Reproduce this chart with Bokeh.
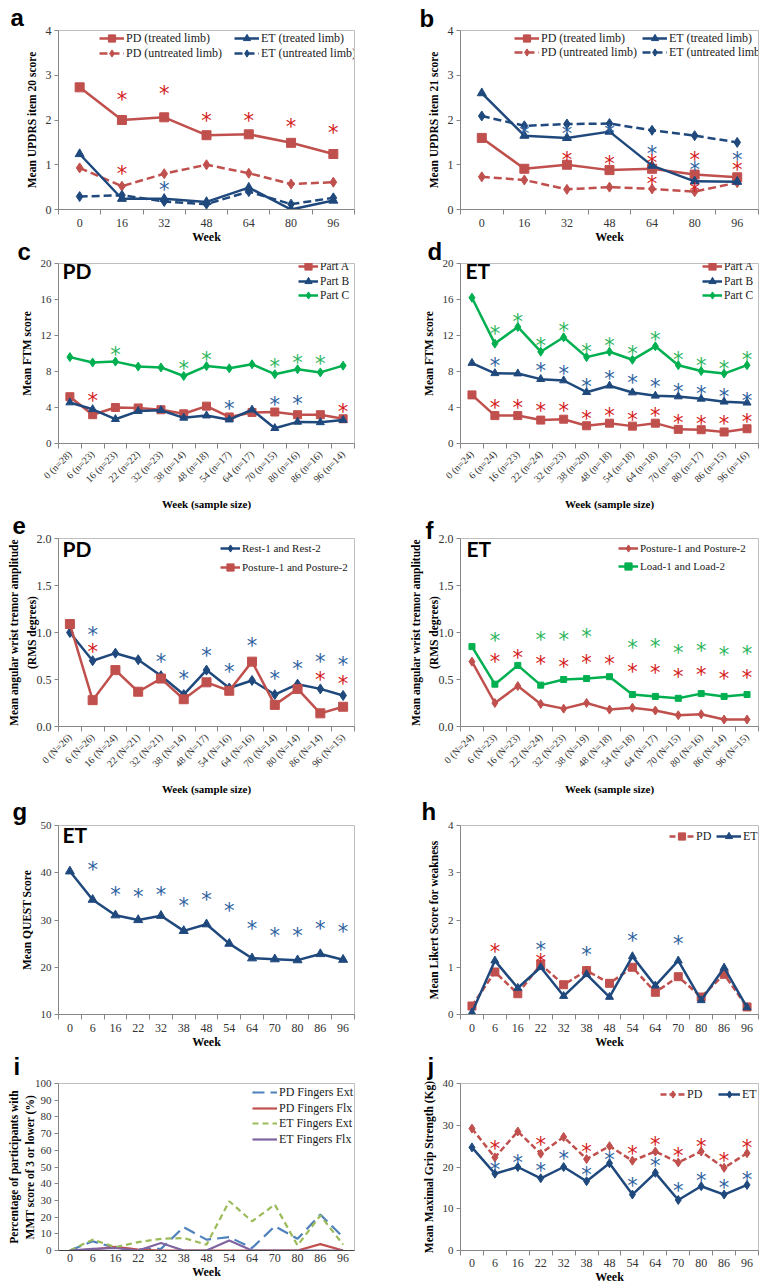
import math
from bokeh.plotting import figure
from bokeh.models import Range1d, FixedTicker, Legend, LegendItem, Label, PrintfTickFormatter
from bokeh.layouts import column, row
from bokeh.core.properties import value
from bokeh.embed import file_html
from bokeh.resources import INLINE

# ---------------- data ----------------
weeks7 = ["0", "16", "32", "48", "64", "80", "96"]
weeks13 = ["0", "6", "16", "22", "32", "38", "48", "54", "64", "70", "80", "86", "96"]

# a: UPDRS item 20
a_pd_treated = [2.73, 2.00, 2.06, 1.66, 1.68, 1.49, 1.24]
a_pd_untreated = [0.93, 0.52, 0.80, 1.00, 0.81, 0.57, 0.61]
a_et_treated = [1.24, 0.24, 0.24, 0.17, 0.49, 0.00, 0.20]
a_et_untreated = [0.29, 0.32, 0.18, 0.12, 0.40, 0.12, 0.26]
a_star_red_w = ["16", "32", "48", "64", "80", "96", "16"]
a_star_red_y = [2.53, 2.66, 2.07, 2.07, 1.94, 1.79, 0.89]
a_star_blue_w = ["32"]
a_star_blue_y = [0.52]

# b: UPDRS item 21
b_pd_treated = [1.60, 0.91, 1.00, 0.88, 0.91, 0.78, 0.72]
b_pd_untreated = [0.73, 0.66, 0.45, 0.50, 0.46, 0.40, 0.60]
b_et_treated = [2.60, 1.65, 1.60, 1.74, 0.98, 0.63, 0.62]
b_et_untreated = [2.09, 1.87, 1.91, 1.92, 1.77, 1.65, 1.50]
b_star_blue_w = ["16", "32", "48", "64", "80", "96"]
b_star_blue_y = [1.78, 1.78, 1.81, 1.34, 0.98, 1.19]
b_star_red_w = ["32", "48", "64", "64", "80", "80", "96"]
b_star_red_y = [1.20, 1.10, 1.13, 0.65, 1.19, 0.50, 0.98]

ab_yticks = [0, 1, 2, 3, 4]

# c: FTM PD
c_xlabels = ["0 (n=28)", "6 (n=23)", "16 (n=23)", "22 (n=22)", "32 (n=23)", "38 (n=14)", "48 (n=18)",
             "54 (n=17)", "64 (n=17)", "70 (n=15)", "80 (n=16)", "86 (n=16)", "96 (n=14)"]
c_part_a = [5.2, 3.2, 4.0, 3.95, 3.75, 3.3, 4.15, 2.95, 3.45, 3.5, 3.2, 3.2, 2.75]
c_part_b = [4.55, 3.8, 2.7, 3.6, 3.7, 2.85, 3.1, 2.65, 3.75, 1.7, 2.4, 2.35, 2.6]
c_part_c = [9.6, 9.0, 9.1, 8.55, 8.45, 7.5, 8.6, 8.35, 8.8, 7.7, 8.25, 7.9, 8.65]
c_star_green_w = ["16", "38", "48", "70", "80", "86"]
c_star_green_y = [10.25, 8.75, 9.7, 8.98, 9.4, 9.3]
c_star_red_w = ["6", "96"]
c_star_red_y = [5.15, 4.0]
c_star_blue_w = ["54", "70", "80"]
c_star_blue_y = [4.3, 4.67, 4.85]

# d: FTM ET
d_xlabels = ["0 (n=24)", "6 (n=24)", "16 (n=23)", "22 (n=24)", "32 (n=23)", "38 (n=20)", "48 (n=18)",
             "54 (n=18)", "64 (n=18)", "70 (n=15)", "80 (n=17)", "86 (n=15)", "96 (n=16)"]
d_part_a = [5.4, 3.1, 3.1, 2.6, 2.7, 1.97, 2.26, 1.93, 2.26, 1.57, 1.53, 1.28, 1.64]
d_part_b = [8.94, 7.8, 7.77, 7.15, 7.0, 5.7, 6.42, 5.66, 5.3, 5.22, 4.96, 4.64, 4.53]
d_part_c = [16.2, 11.1, 12.95, 10.2, 11.8, 9.6, 10.2, 9.3, 10.8, 8.7, 8.05, 7.77, 8.7]
d_star_green_w = weeks13[1:]
d_star_green_y = [12.6, 13.9, 11.25, 12.9, 10.6, 11.25, 10.4, 11.9, 9.7, 9.05, 8.75, 9.7]
d_star_blue_w = ["6", "22", "32", "38", "48", "54", "64", "70", "80", "86", "96"]
d_star_blue_y = [9.1, 8.5, 8.2, 6.7, 7.6, 7.15, 6.7, 6.2, 5.95, 5.6, 5.2]
d_star_red_w = weeks13[1:]
d_star_red_y = [4.4, 4.4, 4.05, 4.05, 3.2, 3.47, 3.1, 3.47, 2.77, 2.6, 2.6, 2.85]

cd_yticks = [0, 4, 8, 12, 16, 20]

# e: tremor PD
e_xlabels = ["0 (N=26)", "6 (N=26)", "16 (N=24)", "22 (N=21)", "32 (N=21)", "38 (N=14)", "48 (N=17)",
             "54 (N=16)", "64 (N=16)", "70 (N=14)", "80 (N=14)", "86 (N=14)", "96 (N=15)"]
e_rest = [1.0, 0.70, 0.78, 0.71, 0.54, 0.34, 0.60, 0.41, 0.49, 0.34, 0.45, 0.40, 0.33]
e_posture = [1.09, 0.28, 0.60, 0.37, 0.51, 0.29, 0.47, 0.38, 0.69, 0.23, 0.40, 0.14, 0.21]
e_star_blue_w = ["6", "32", "38", "48", "54", "64", "70", "80", "86", "96"]
e_star_blue_y = [1.02, 0.73, 0.55, 0.79, 0.62, 0.90, 0.55, 0.65, 0.73, 0.70]
e_star_red_w = ["6", "86", "96"]
e_star_red_y = [0.84, 0.54, 0.49]

# f: tremor ET
f_xlabels = ["0 (N=24)", "6 (N=23)", "16 (N=23)", "22 (N=24)", "32 (N=23)", "38 (N=19)", "48 (N=18)",
             "54 (N=18)", "64 (N=17)", "70 (N=15)", "80 (N=16)", "86 (N=14)", "96 (N=15)"]
f_posture = [0.69, 0.25, 0.43, 0.24, 0.19, 0.25, 0.18, 0.20, 0.17, 0.12, 0.13, 0.074, 0.074]
f_load = [0.85, 0.45, 0.65, 0.44, 0.50, 0.51, 0.53, 0.34, 0.32, 0.30, 0.35, 0.32, 0.34]
f_star_green_w = ["6", "22", "32", "38", "54", "64", "70", "80", "86", "96"]
f_star_green_y = [0.95, 0.96, 0.96, 1.0, 0.88, 0.89, 0.82, 0.85, 0.80, 0.81]
f_star_red_w = weeks13[1:]
f_star_red_y = [0.73, 0.77, 0.71, 0.68, 0.72, 0.71, 0.62, 0.61, 0.57, 0.59, 0.55, 0.56]

ef_yticks = [0.0, 0.5, 1.0, 1.5, 2.0]

# g: QUEST
g_quest = [40.3, 34.3, 31.0, 30.0, 30.9, 27.7, 29.1, 25.0, 21.9, 21.7, 21.5, 22.8, 21.6]
g_star_w = weeks13[1:]
g_star_y = [41.5, 36.1, 35.7, 36.1, 33.8, 35.0, 32.7, 29.0, 27.4, 27.4, 29.0, 28.3]
g_yticks = [10, 20, 30, 40, 50]

# h: Likert weakness
h_pd = [0.18, 0.90, 0.44, 1.06, 0.63, 0.93, 0.66, 1.00, 0.47, 0.80, 0.37, 0.85, 0.16]
h_et = [0.04, 1.14, 0.56, 1.00, 0.39, 0.85, 0.37, 1.23, 0.61, 1.14, 0.30, 0.99, 0.15]
h_star_red_w = ["6", "22"]
h_star_red_y = [1.41, 1.20]
h_star_blue_w = ["22", "38", "54", "70"]
h_star_blue_y = [1.46, 1.35, 1.64, 1.57]
h_yticks = [0, 1, 2, 3, 4]

# i: MMT
i_pd_ext = [0, 5.5, 1.5, 0.6, 1.0, 14.0, 6.5, 8.0, 1.5, 14.5, 7.0, 21.5, 8.0]
i_pd_flx = [0, 0.6, 2.2, 0.6, 0, 0, 0, 0, 0, 0, 0, 3.8, 0]
i_et_ext = [0, 6.5, 2.0, 5.0, 7.0, 7.5, 3.5, 29.5, 17.5, 27.5, 3.0, 21.0, 3.5]
i_et_flx = [0, 1.0, 1.5, 0, 4.5, 0, 0, 6.0, 0, 0, 0, 0, 0]
i_yticks = [0, 10, 20, 30, 40, 50, 60, 70, 80, 90, 100]

# j: grip strength
j_pd = [29.2, 22.3, 28.5, 23.2, 27.2, 21.9, 25.0, 21.5, 23.7, 21.1, 23.7, 19.8, 23.3]
j_et = [24.7, 18.4, 20.0, 17.3, 20.0, 16.6, 20.9, 13.4, 18.6, 12.1, 15.4, 13.4, 15.7]
j_star_red_w = ["6", "22", "38", "54", "64", "70", "80", "86", "96"]
j_star_red_y = [25.3, 26.2, 24.5, 24.0, 26.2, 23.5, 25.8, 22.4, 25.4]
j_star_blue_w = weeks13[1:]
j_star_blue_y = [20.3, 21.9, 20.1, 22.9, 19.1, 22.7, 16.3, 21.1, 15.1, 17.7, 15.9, 17.9]
j_yticks = [0, 10, 20, 30, 40]

# ---------------- style ----------------
SERIF = "Liberation Serif"
LETTER_FONT = "Liberation Sans"
TAG_FONT = "Lato"
STAR_FONT = "DejaVu Sans"
RED = "#C0504D"
NAVY = "#1F497D"
GREEN = "#00B050"
STAR_RED = "#D42020"
STAR_BLUE = "#2E62A0"
STAR_GREEN = "#2DB55D"
AXIS = "#868686"
OUTLINE = "#BFBFBF"
TICK = "#333333"
DASH = "8 4"


def make_fig(width, height, bl, br, bt, bb, xlabels, yr, yticks, ylabel, xlabel,
             ytick_font="12px", xtick_font="12px", rotate=False, xminor=True, yfmt=None,
             xstand=4, xlab_stand=0, ylab_stand=5, ylab_font="11.5px", xlab_font="12px",
             xaxis_color=AXIS, ylab_lh=1.2, overlap=0):
    n = len(xlabels)
    p = figure(width=width, height=height, output_backend="svg", toolbar_location=None,
               x_range=Range1d(-0.5, n - 0.5), y_range=Range1d(yr[0], yr[1]),
               min_border_left=bl, min_border_right=br, min_border_top=bt, min_border_bottom=bb)
    if overlap:
        # canvas reaches up over the panel above; its border is transparent
        p.margin = (-overlap, 0, 0, 0)
        p.border_fill_alpha = 0
    else:
        p.border_fill_color = "white"
    p.xgrid.visible = False
    p.ygrid.visible = False
    p.outline_line_color = OUTLINE
    p.background_fill_color = "white"
    xa = p.xaxis[0]
    xa.ticker = FixedTicker(ticks=list(range(n)),
                            minor_ticks=[i - 0.5 for i in range(n + 1)] if xminor else [])
    xa.major_label_overrides = {i: s for i, s in enumerate(xlabels)}
    xa.major_tick_in = 0
    xa.major_tick_out = 0
    xa.minor_tick_in = 0
    xa.minor_tick_out = 5 if xminor else 0
    xa.minor_tick_line_color = AXIS if xminor else None
    xa.axis_line_color = xaxis_color
    xa.major_label_text_font = SERIF
    xa.major_label_text_font_size = xtick_font
    xa.major_label_text_color = TICK
    xa.major_label_standoff = xstand
    if rotate:
        xa.major_label_orientation = math.pi / 4
    xa.axis_label = xlabel
    xa.axis_label_text_font = SERIF
    xa.axis_label_text_font_style = "bold"
    xa.axis_label_text_font_size = xlab_font
    xa.axis_label_text_color = "black"
    xa.axis_label_standoff = xlab_stand
    ya = p.yaxis[0]
    ya.ticker = FixedTicker(ticks=yticks)
    if yfmt:
        ya.formatter = PrintfTickFormatter(format=yfmt)
    ya.major_tick_in = 0
    ya.major_tick_out = 4
    ya.major_tick_line_color = AXIS
    ya.minor_tick_line_color = None
    ya.axis_line_color = AXIS
    ya.major_label_text_font = SERIF
    ya.major_label_text_font_size = ytick_font
    ya.major_label_text_color = TICK
    ya.major_label_standoff = 3
    ya.axis_label = ylabel
    ya.axis_label_text_font = SERIF
    ya.axis_label_text_font_style = "bold"
    ya.axis_label_text_font_size = ylab_font
    ya.axis_label_text_color = "black"
    ya.axis_label_text_line_height = ylab_lh
    ya.axis_label_standoff = ylab_stand
    return p


def series(p, ys, color, marker=None, size=8, dash="solid", lw=2.5):
    xs = list(range(len(ys)))
    rs = [p.line(xs, ys, line_color=color, line_width=lw, line_dash=dash)]
    if marker:
        rs.append(p.scatter(xs, ys, marker=marker, size=size, fill_color=color, line_color=color))
    return rs


def stars(p, cats, weeks, ys, color, size=21):
    xs = [cats.index(w) for w in weeks]
    p.text(x=xs, y=ys, text=["*"] * len(xs), text_color=color, text_font=value(STAR_FONT),
           text_font_size=value(f"{size}px"), text_align="center", text_baseline="middle",
           y_offset=4)


def legends(p, fh, items, x, centers, glyph_w=25, h=18, font="12px"):
    # one legend box per entry so that the row positions are exact
    for (lab, rends), d in zip(items, centers):
        lg = Legend(items=[LegendItem(label=lab, renderers=rends)], location=(x, fh - d - h / 2))
        lg.background_fill_alpha = 0
        lg.border_line_alpha = 0
        lg.padding = 0
        lg.margin = 0
        lg.spacing = 0
        lg.glyph_width = glyph_w
        lg.glyph_height = h
        lg.label_height = h
        lg.label_standoff = 2
        lg.label_text_font = SERIF
        lg.label_text_font_size = font
        lg.label_text_color = "#1A1A1A"
        p.add_layout(lg)


def letter(p, txt, yhi, dx, up, size=24):
    # panel letter drawn just outside the frame's top-left corner
    p.text(x=[-0.5], y=[yhi], text=[txt], text_font=value(LETTER_FONT), text_font_size=value(f"{size}px"),
           text_font_style="bold", text_color="black", text_align="left", text_baseline="middle",
           x_offset=dx, y_offset=-(up + 7), level="overlay")


def tag(p, txt, fh, dx=4, below=9.5):
    p.add_layout(Label(x=dx, y=fh - below, x_units="screen", y_units="screen", text=txt,
                       text_font=TAG_FONT, text_font_size="21px", text_font_style="bold",
                       text_baseline="middle", text_color="black"))


W = 383

# ---------------- panel a / b ----------------
H1, FH1 = 246, 179
pa = make_fig(W, H1, 58, 28, 30, 37, weeks7, (0, 4), ab_yticks, "Mean UPDRS item 20 score", "Week")
r_a1 = series(pa, a_pd_treated, RED, "square", 9)
r_a2 = series(pa, a_pd_untreated, RED, "diamond", 10, dash=DASH)
r_a3 = series(pa, a_et_treated, NAVY, "triangle", 9)
r_a4 = series(pa, a_et_untreated, NAVY, "diamond", 10, dash=DASH)
stars(pa, weeks7, a_star_red_w, a_star_red_y, STAR_RED)
stars(pa, weeks7, a_star_blue_w, a_star_blue_y, STAR_BLUE)
legends(pa, FH1, [("PD (treated limb)", r_a1), ("PD (untreated limb)", r_a2)], 41, [8, 23])
legends(pa, FH1, [("ET (treated limb)", r_a3), ("ET (untreated limb)", r_a4)], 176, [8, 23])
letter(pa, "a", 4, -48, 6)

pb = make_fig(W, H1, 76, 6, 30, 37, weeks7, (0, 4), ab_yticks, "Mean UPDRS item 21 score", "Week")
r_b1 = series(pb, b_pd_treated, RED, "square", 9)
r_b2 = series(pb, b_pd_untreated, RED, "diamond", 10, dash=DASH)
r_b3 = series(pb, b_et_treated, NAVY, "triangle", 9)
r_b4 = series(pb, b_et_untreated, NAVY, "diamond", 10, dash=DASH)
stars(pb, weeks7, b_star_blue_w, b_star_blue_y, STAR_BLUE)
stars(pb, weeks7, b_star_red_w, b_star_red_y, STAR_RED)
legends(pb, FH1, [("PD (treated limb)", r_b1), ("PD (untreated limb)", r_b2)], 54, [8, 22])
legends(pb, FH1, [("ET (treated limb)", r_b3), ("ET (untreated limb)", r_b4)], 182, [8, 22])
letter(pb, "b", 4, -41, 5)

# ---------------- panel c / d ----------------
FH2 = 183
pc = make_fig(W, 27 + FH2 + 67, 58, 27, 27, 67, c_xlabels, (0, 20), cd_yticks, "Mean FTM score",
              "Week (sample size)", ytick_font="11px", xtick_font="10px", rotate=True, xstand=4,
              xlab_stand=7, xlab_font="11px", overlap=10)
r_c1 = series(pc, c_part_a, RED, "square", 8)
r_c2 = series(pc, c_part_b, NAVY, "triangle", 8)
r_c3 = series(pc, c_part_c, GREEN, "diamond", 9)
stars(pc, weeks13, c_star_green_w, c_star_green_y, STAR_GREEN)
stars(pc, weeks13, c_star_red_w, c_star_red_y, STAR_RED)
stars(pc, weeks13, c_star_blue_w, c_star_blue_y, STAR_BLUE)
legends(pc, FH2, [("Part A", r_c1), ("Part B", r_c2), ("Part C", r_c3)], 240, [6, 21, 35], glyph_w=20,
        font="11.5px")
letter(pc, "c", 20, -41, 5)
tag(pc, "PD", FH2)

pd_ = make_fig(W, 27 + FH2 + 67, 73, 6, 27, 67, d_xlabels, (0, 20), cd_yticks, "Mean FTM score",
               "Week (sample size)", ytick_font="11px", xtick_font="10px", rotate=True, xstand=4,
               xlab_stand=7, xlab_font="11px", overlap=10)
r_d1 = series(pd_, d_part_a, RED, "square", 8)
r_d2 = series(pd_, d_part_b, NAVY, "triangle", 8)
r_d3 = series(pd_, d_part_c, GREEN, "diamond", 9)
stars(pd_, weeks13, d_star_green_w, d_star_green_y, STAR_GREEN)
stars(pd_, weeks13, d_star_blue_w, d_star_blue_y, STAR_BLUE)
stars(pd_, weeks13, d_star_red_w, d_star_red_y, STAR_RED)
legends(pd_, FH2, [("Part A", r_d1), ("Part B", r_d2), ("Part C", r_d3)], 242, [6, 21, 35], glyph_w=20,
        font="11.5px")
letter(pd_, "d", 20, -33, 5)
tag(pd_, "ET", FH2, dx=5)

# ---------------- panel e / f ----------------
FH3 = 188
YL_E = "Mean angular wrist tremor amplitude\n(RMS degrees)"
pe = make_fig(W, 29 + FH3 + 74, 58, 29, 29, 74, e_xlabels, (0, 2), ef_yticks, YL_E, "Week (sample size)",
              ytick_font="12px", xtick_font="10px", rotate=True, xstand=4, xlab_stand=7, xlab_font="11px",
              yfmt="%.1f", ylab_stand=-4, ylab_lh=1.45, overlap=4)
r_e1 = series(pe, e_rest, NAVY, "diamond", 10)
r_e2 = series(pe, e_posture, RED, "square", 9)
stars(pe, weeks13, e_star_blue_w, e_star_blue_y, STAR_BLUE)
stars(pe, weeks13, e_star_red_w, e_star_red_y, STAR_RED)
legends(pe, FH3, [("Rest-1 and Rest-2", r_e1), ("Posture-1 and Posture-2", r_e2)], 162, [10, 29],
        glyph_w=20, font="11px")
letter(pe, "e", 2, -46, 6)
tag(pe, "PD", FH3)

pf = make_fig(W, 29 + FH3 + 74, 77, 8, 29, 74, f_xlabels, (0, 2), ef_yticks, YL_E, "Week (sample size)",
              ytick_font="12px", xtick_font="10px", rotate=True, xstand=4, xlab_stand=7, xlab_font="11px",
              yfmt="%.1f", ylab_stand=-4, ylab_lh=1.45, overlap=4)
r_f1 = series(pf, f_posture, RED, "diamond", 9)
r_f2 = series(pf, f_load, GREEN, "square", 6)
stars(pf, weeks13, f_star_green_w, f_star_green_y, STAR_GREEN)
stars(pf, weeks13, f_star_red_w, f_star_red_y, STAR_RED)
legends(pf, FH3, [("Posture-1 and Posture-2", r_f1), ("Load-1 and Load-2", r_f2)], 158, [10, 28],
        glyph_w=20, font="11px")
letter(pf, "f", 2, -35, 1)
tag(pf, "ET", FH3, dx=6)

# ---------------- panel g / h ----------------
FH4 = 189
pg = make_fig(W, 30 + FH4 + 41, 58, 27, 30, 41, weeks13, (10, 50), g_yticks, "Mean QUEST Score", "Week",
              ytick_font="11px", overlap=5)
series(pg, g_quest, NAVY, "triangle", 9)
stars(pg, weeks13, g_star_w, g_star_y, STAR_BLUE)
letter(pg, "g", 50, -46, 7)
tag(pg, "ET", FH4, below=9)

ph = make_fig(W, 30 + FH4 + 41, 76, 7, 30, 41, weeks13, (0, 4), h_yticks, "Mean Likert Score for weakness",
              "Week", ytick_font="11px", overlap=5)
r_h1 = series(ph, h_pd, RED, "square", 8, dash="6 3")
r_h2 = series(ph, h_et, NAVY, "triangle", 8)
stars(ph, weeks13, h_star_red_w, h_star_red_y, STAR_RED)
stars(ph, weeks13, h_star_blue_w, h_star_blue_y, STAR_BLUE)
legends(ph, FH4, [("PD", r_h1)], 209, [11])
legends(ph, FH4, [("ET", r_h2)], 256, [11])
letter(ph, "h", 4, -39, 7)

# ---------------- panel i / j ----------------
FH5 = 167
YL_I = "Percentage of participants with\nMMT score of 3 or lower (%)"
pi_ = make_fig(W, 33 + FH5 + 38, 58, 27, 33, 38, weeks13, (0, 100), i_yticks, YL_I, "Week",
               ytick_font="11px", xminor=False, xstand=3, xlab_stand=0, ylab_stand=-4,
               xaxis_color="#404040", ylab_lh=1.3, overlap=5)
r_i1 = series(pi_, i_pd_ext, "#4F81BD", None, dash="12 6", lw=2.2)
r_i2 = series(pi_, i_pd_flx, "#C0504D", None, lw=2.2)
r_i3 = series(pi_, i_et_ext, "#9BBB59", None, dash="6 4", lw=2.2)
r_i4 = series(pi_, i_et_flx, "#8064A2", None, lw=2.2)
legends(pi_, FH5, [("PD Fingers Ext", r_i1), ("PD Fingers Flx", r_i2), ("ET Fingers Ext", r_i3),
                   ("ET Fingers Flx", r_i4)], 194, [9, 25, 40, 56])
letter(pi_, "i", 100, -45, 10)

pj = make_fig(W, 33 + FH5 + 38, 73, 6, 33, 38, weeks13, (0, 40), j_yticks, "Mean Maximal Grip Strength (Kg)",
              "Week", ytick_font="11px", xstand=3, xlab_stand=0, overlap=5)
r_j1 = series(pj, j_pd, RED, "diamond", 9, dash="6 3")
r_j2 = series(pj, j_et, NAVY, "diamond", 9)
stars(pj, weeks13, j_star_red_w, j_star_red_y, STAR_RED)
stars(pj, weeks13, j_star_blue_w, j_star_blue_y, STAR_BLUE)
legends(pj, FH5, [("PD", r_j1)], 200, [11])
legends(pj, FH5, [("ET", r_j2)], 258, [11], glyph_w=22)
letter(pj, "j", 40, -33, 10)

layout = row(column(pa, pc, pe, pg, pi_), column(pb, pd_, pf, ph, pj))

open("out.html", "w").write(file_html(layout, INLINE))
